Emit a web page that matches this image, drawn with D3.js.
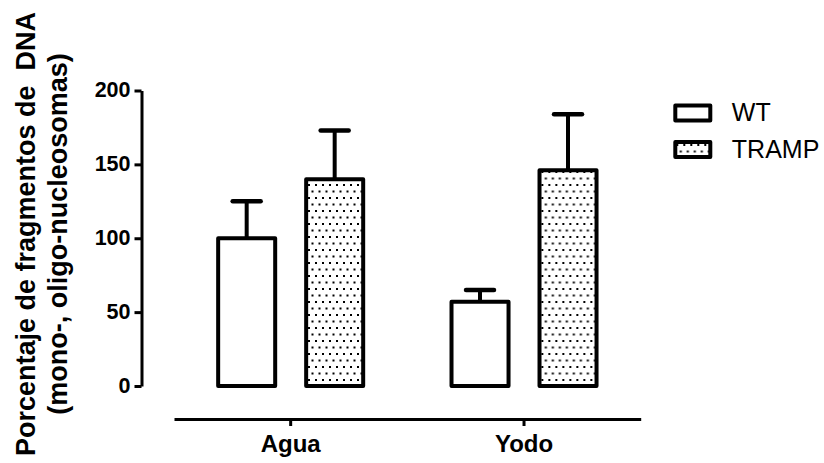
<!DOCTYPE html>
<html>
<head>
<meta charset="utf-8">
<script src="https://cdn.jsdelivr.net/npm/d3@7"></script>
<style>
  html, body { margin: 0; padding: 0; background: #fff; }
  svg { display: block; }
  text { font-family: "Liberation Sans", Arial, sans-serif; fill: #000; }
</style>
</head>
<body>
<svg id="chart" width="824" height="463"></svg>
<script>
// Grupos de tratamiento y genotipos
const groups = ["Agua", "Yodo"];
const series = ["WT", "TRAMP"];

// Media y error (barra superior) por genotipo, en el orden de groups
const wtMean = [100, 57];
const wtErr = [25, 8];
const trampMean = [140, 146];
const trampErr = [33, 38];

const yTicks = [0, 50, 100, 150, 200];
const yTitle = ["Porcentaje de fragmentos de  DNA", "(mono-, oligo-nucleosomas)"];

const seriesData = {
  WT: { mean: wtMean, err: wtErr, fill: "#fff" },
  TRAMP: { mean: trampMean, err: trampErr, fill: "url(#dots)" }
};

const svg = d3.select("#chart");

// Dotted fill for TRAMP bars
const defs = svg.append("defs");
const pat = defs.append("pattern")
  .attr("id", "dots")
  .attr("patternUnits", "userSpaceOnUse")
  .attr("width", 7).attr("height", 13);
pat.append("rect").attr("width", 7).attr("height", 13).attr("fill", "#fff");
pat.append("rect").attr("x", 1).attr("y", 2).attr("width", 2).attr("height", 2).attr("fill", "#000");
pat.append("rect").attr("x", 4.5).attr("y", 8.5).attr("width", 2).attr("height", 2).attr("fill", "#000");

const y = d3.scaleLinear().domain([0, 200]).range([386, 90.5]);
const x = d3.scaleBand().domain(groups).range([174, 640.7]).padding(0);
const xs = d3.scaleBand().domain(series)
  .range([x.bandwidth() / 2 - 88, x.bandwidth() / 2 + 88])
  .paddingInner(0.352).paddingOuter(0.176);

// Y axis
const yAxis = svg.append("g")
  .attr("transform", "translate(141.5,0)")
  .call(d3.axisLeft(y).tickValues(yTicks).tickSize(7).tickSizeOuter(0).tickPadding(4));
yAxis.select(".domain").attr("stroke", "#000").attr("stroke-width", 3);
yAxis.selectAll(".tick line").attr("stroke", "#000").attr("stroke-width", 3);
yAxis.selectAll(".tick text")
  .attr("font-size", 21.5).attr("font-weight", "bold")
  .attr("font-family", "Liberation Sans, Arial, sans-serif")
  .attr("dy", "0.28em");

// X axis
const xAxis = svg.append("g")
  .attr("transform", "translate(0,419)")
  .call(d3.axisBottom(x).tickSize(7).tickSizeOuter(0));
xAxis.select(".domain").attr("stroke", "#000").attr("stroke-width", 3);
xAxis.selectAll(".tick line").attr("stroke", "#000").attr("stroke-width", 3);
xAxis.selectAll(".tick text")
  .attr("font-size", 24).attr("font-weight", "bold")
  .attr("font-family", "Liberation Sans, Arial, sans-serif")
  .attr("y", 33).attr("dy", null);

// Bars with upper error bars
const rows = [];
groups.forEach((g, i) => {
  series.forEach(s => {
    rows.push({ group: g, series: s, mean: seriesData[s].mean[i], err: seriesData[s].err[i], fill: seriesData[s].fill });
  });
});

const barG = svg.append("g");
const bar = barG.selectAll("g.bar").data(rows).join("g")
  .attr("class", "bar")
  .attr("transform", d => `translate(${x(d.group)},0)`);

bar.append("line")
  .attr("x1", d => xs(d.series) + xs.bandwidth() / 2)
  .attr("x2", d => xs(d.series) + xs.bandwidth() / 2)
  .attr("y1", d => y(d.mean))
  .attr("y2", d => y(d.mean + d.err))
  .attr("stroke", "#000").attr("stroke-width", 4);
bar.append("line")
  .attr("x1", d => xs(d.series) + xs.bandwidth() / 2 - 14)
  .attr("x2", d => xs(d.series) + xs.bandwidth() / 2 + 14)
  .attr("y1", d => y(d.mean + d.err))
  .attr("y2", d => y(d.mean + d.err))
  .attr("stroke", "#000").attr("stroke-width", 4.5).attr("stroke-linecap", "round");

bar.append("rect")
  .attr("x", d => xs(d.series))
  .attr("width", xs.bandwidth())
  .attr("y", d => y(d.mean))
  .attr("height", d => y(0) - y(d.mean))
  .attr("fill", d => d.fill)
  .attr("stroke", "#000").attr("stroke-width", 4)
  .attr("stroke-linejoin", "round");

// Y axis title (two lines, rotated)
const title = svg.append("g").attr("transform", "translate(0,234) rotate(-90)");
title.selectAll("text").data(yTitle).join("text")
  .attr("x", 0)
  .attr("y", (d, i) => 35 + i * 32)
  .attr("text-anchor", "middle")
  .attr("font-size", 27).attr("font-weight", "bold")
  .attr("xml:space", "preserve")
  .style("white-space", "pre")
  .text(d => d);

// Legend
const legend = svg.append("g");
const li = legend.selectAll("g").data(series).join("g")
  .attr("transform", (d, i) => `translate(675.3,${105.5 + i * 36.5})`);
li.append("rect")
  .attr("width", 35).attr("height", 15)
  .attr("fill", d => seriesData[d].fill)
  .attr("stroke", "#000").attr("stroke-width", 4)
  .attr("stroke-linejoin", "round");
li.append("text")
  .attr("x", 56.5).attr("y", 15.5)
  .attr("font-size", 25)
  .text(d => d);
</script>
</body>
</html>
